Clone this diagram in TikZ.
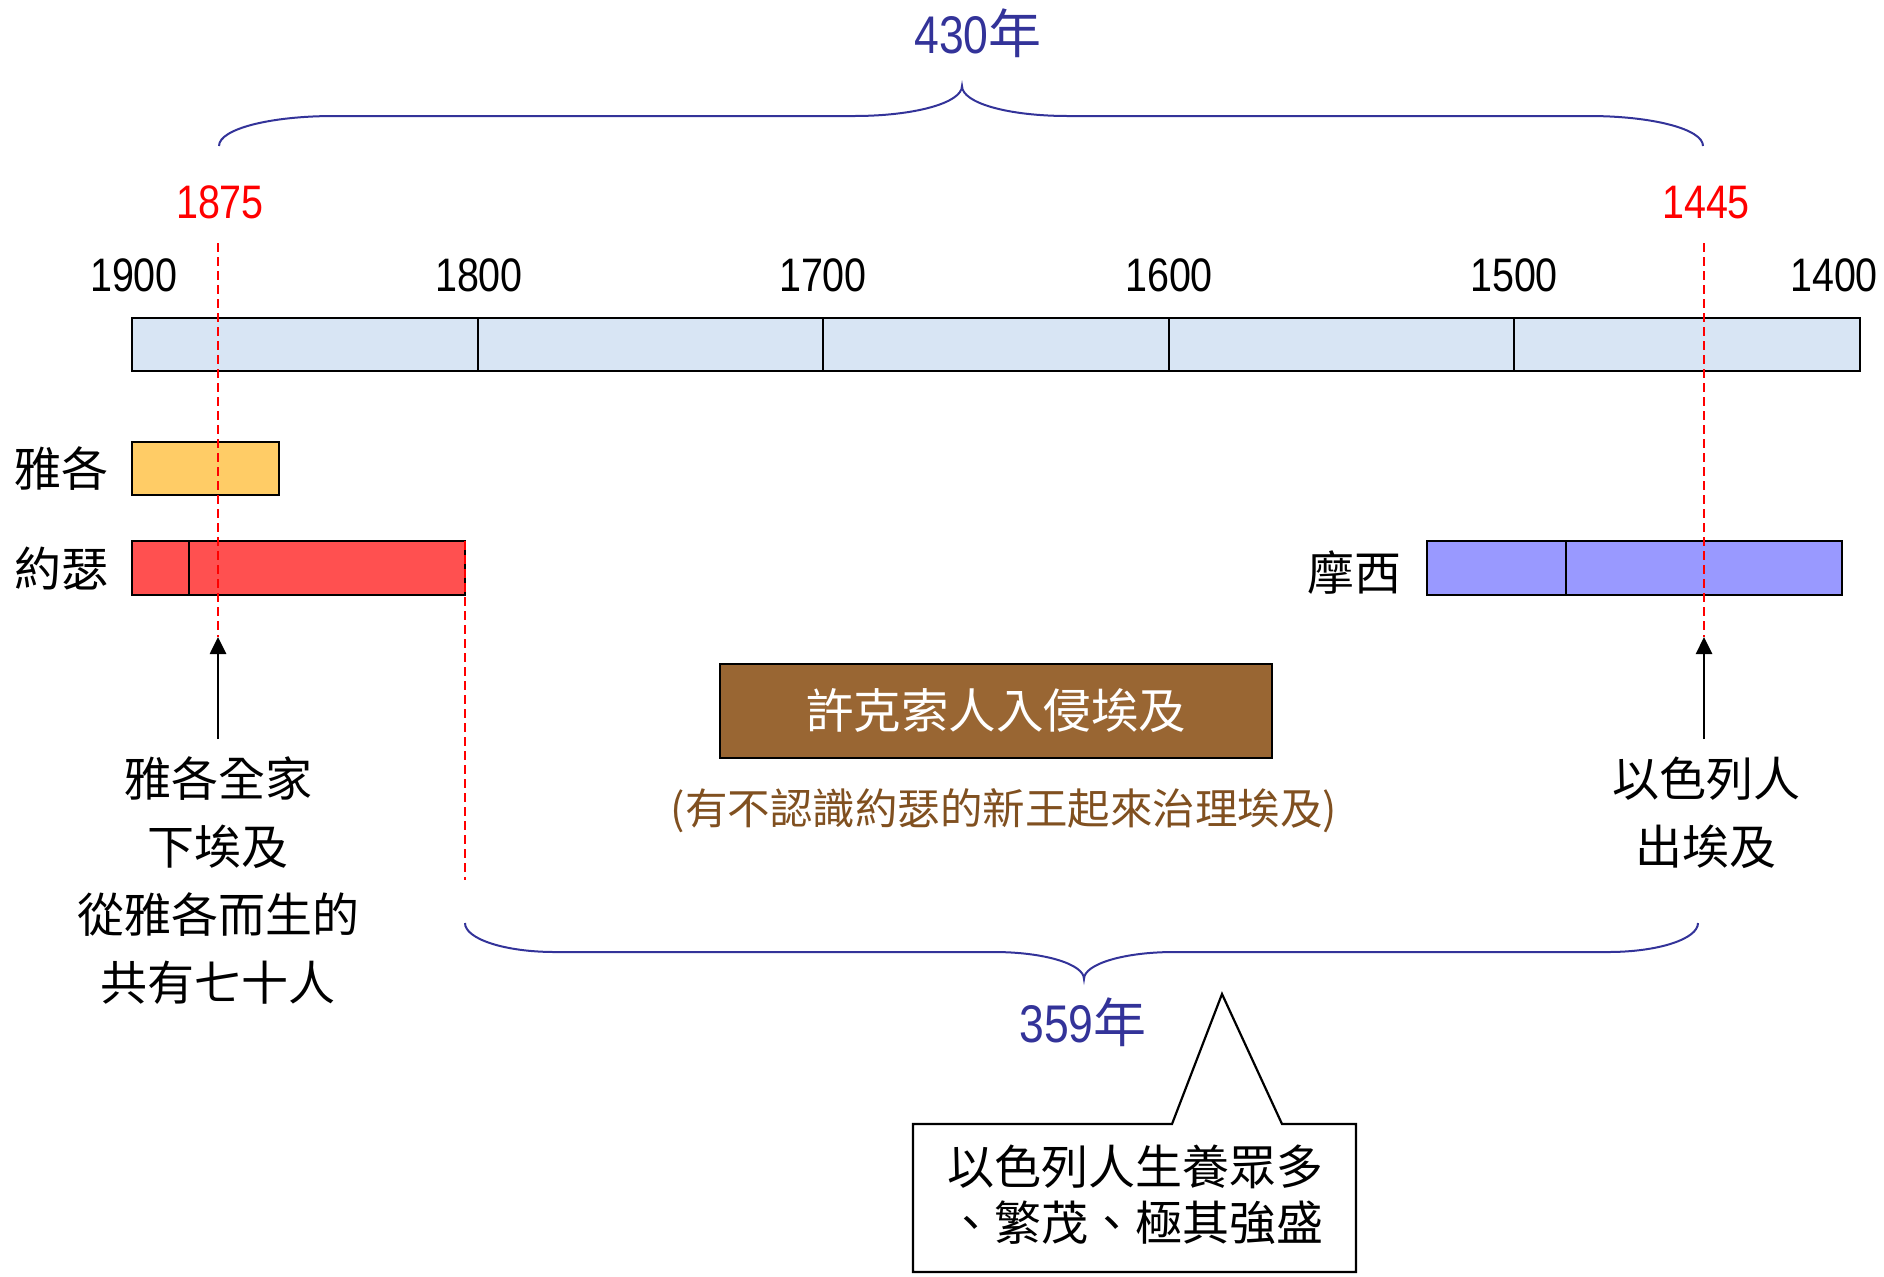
\documentclass[tikz,border=0pt]{standalone}
\usepackage{fontspec}
\setmainfont{Noto Sans CJK TC}
\newfontfamily\numfont[FakeStretch=0.84]{Liberation Sans}
\usetikzlibrary{arrows.meta}
\definecolor{tlblue}{HTML}{D8E5F4}
\definecolor{jacobc}{HTML}{FFCC66}
\definecolor{josephc}{HTML}{FF5050}
\definecolor{mosesc}{HTML}{9999FF}
\definecolor{hyk}{HTML}{996633}
\definecolor{subbrown}{RGB}{128,80,32}
\definecolor{braceblue}{HTML}{333399}
\definecolor{markred}{HTML}{FF0000}
\begin{document}
\begin{tikzpicture}[x=0.5pt,y=-0.5pt,
  bar/.style={draw=black, line width=1.2pt, inner sep=0pt, outer sep=0pt, anchor=north west},
  divider/.style={draw=black, line width=1.1pt},
  yearlbl/.style={anchor=base, inner sep=0pt, font=\numfont\fontsize{23.5pt}{23.5pt}\selectfont},
  redlbl/.style={yearlbl, text=markred},
  spanlbl/.style={anchor=base, inner sep=0pt, text=braceblue, font=\fontsize{26.5pt}{26.5pt}\selectfont},
  cjklbl/.style={inner sep=0pt, align=center, font=\fontsize{23.5pt}{34pt}\selectfont},
  reddash/.style={draw=markred, line width=1pt, dash pattern=on 4.5pt off 2.5pt},
  arr/.style={draw=black, line width=1.35pt, -{Triangle[length=8.5pt,width=8pt]}},
  bracepath/.style={draw=braceblue, line width=1pt},
]
\useasboundingbox (0,0) rectangle (1884,1276);

% span labels and braces
\node[spanlbl] (span430) at (978,53) {{\numfont 430}年};
\draw[bracepath] (219,146) .. controls (219,129) and (270,116) .. (334,116)
  -- (854,116) .. controls (914,116) and (962,103) .. (962,86)
  .. controls (962,103) and (1008,116) .. (1068,116)
  -- (1589,116) .. controls (1652,116) and (1703,129) .. (1703,146);

% year labels
\node[yearlbl] (y1900) at (134,291) {1900};
\node[yearlbl] (y1800) at (479,291) {1800};
\node[yearlbl] (y1700) at (823,291) {1700};
\node[yearlbl] (y1600) at (1169,291) {1600};
\node[yearlbl] (y1500) at (1514,291) {1500};
\node[yearlbl] (y1400) at (1834,291) {1400};
\node[redlbl] (y1875) at (220,218) {1875};
\node[redlbl] (y1445) at (1706,218) {1445};

% timeline bar
\node[bar, fill=tlblue, minimum width=864pt, minimum height=26.5pt] (timeline) at (132,318) {};
\foreach \x in {478,823,1169,1514} \draw[divider] (\x,318) -- (\x,371);

% person bars
\node[bar, fill=jacobc, minimum width=73.5pt, minimum height=26.5pt] (jacobbar) at (132,442) {};
\node[bar, fill=josephc, minimum width=166.5pt, minimum height=27pt] (josephbar) at (132,541) {};
\draw[divider] (189,541) -- (189,595);
\node[bar, fill=mosesc, minimum width=207.5pt, minimum height=27pt] (mosesbar) at (1427,541) {};
\draw[divider] (1566,541) -- (1566,595);

\node[cjklbl] (jacobl) at (61,469) {雅各};
\node[cjklbl] (josephl) at (61,568) {約瑟};
\node[cjklbl] (mosesl) at (1354,573) {摩西};

% red dashed markers
\coordinate (d1top) at (218,243);
\coordinate (d1bot) at (218,637);
\coordinate (d2top) at (1704,243);
\coordinate (d2bot) at (1704,637);
\coordinate (d3top) at (465,541);
\coordinate (d3bot) at (465,880);
\draw[reddash] (d1top) -- (d1bot);
\draw[reddash] (d2top) -- (d2bot);
\draw[reddash] (d3top) -- (d3bot);

% arrows
\coordinate (a1tail) at (218,739);
\coordinate (a2tail) at (1704,739);
\draw[arr] (a1tail) -- (d1bot);
\draw[arr] (a2tail) -- (d2bot);

\node[cjklbl] (jacobtxt) at (218,881) {雅各全家\\下埃及\\從雅各而生的\\共有七十人};
\node[cjklbl] (exodustxt) at (1706,813) {以色列人\\出埃及};

% Hyksos box
\node[bar, fill=hyk, minimum width=276pt, minimum height=47pt, text=white,
      font=\fontsize{23.75pt}{23.75pt}\selectfont] (hyksos) at (720,664) {許克索人入侵埃及};
\node[inner sep=0pt, text=subbrown, font=\fontsize{21.25pt}{21.25pt}\selectfont] (hyksub) at (1004,811) {(有不認識約瑟的新王起來治理埃及)};

% lower brace
\draw[bracepath] (465,923) .. controls (465,939) and (505,952) .. (555,952)
  -- (994,952) .. controls (1044,952) and (1084,964) .. (1084,979)
  .. controls (1084,964) and (1124,952) .. (1174,952)
  -- (1608,952) .. controls (1658,952) and (1698,939) .. (1698,923);
\node[spanlbl] (span359) at (1083,1042) {{\numfont 359}年};

% callout
\draw[line width=1.1pt, fill=white] (913,1124) -- (1172,1124) -- (1222,994) -- (1282,1124)
  -- (1356,1124) -- (1356,1272) -- (913,1272) -- cycle;
\node[cjklbl, font=\fontsize{23.5pt}{28pt}\selectfont] (callout) at (1135,1195) {以色列人生養眾多\\、繁茂、極其強盛};
\end{tikzpicture}
\end{document}
